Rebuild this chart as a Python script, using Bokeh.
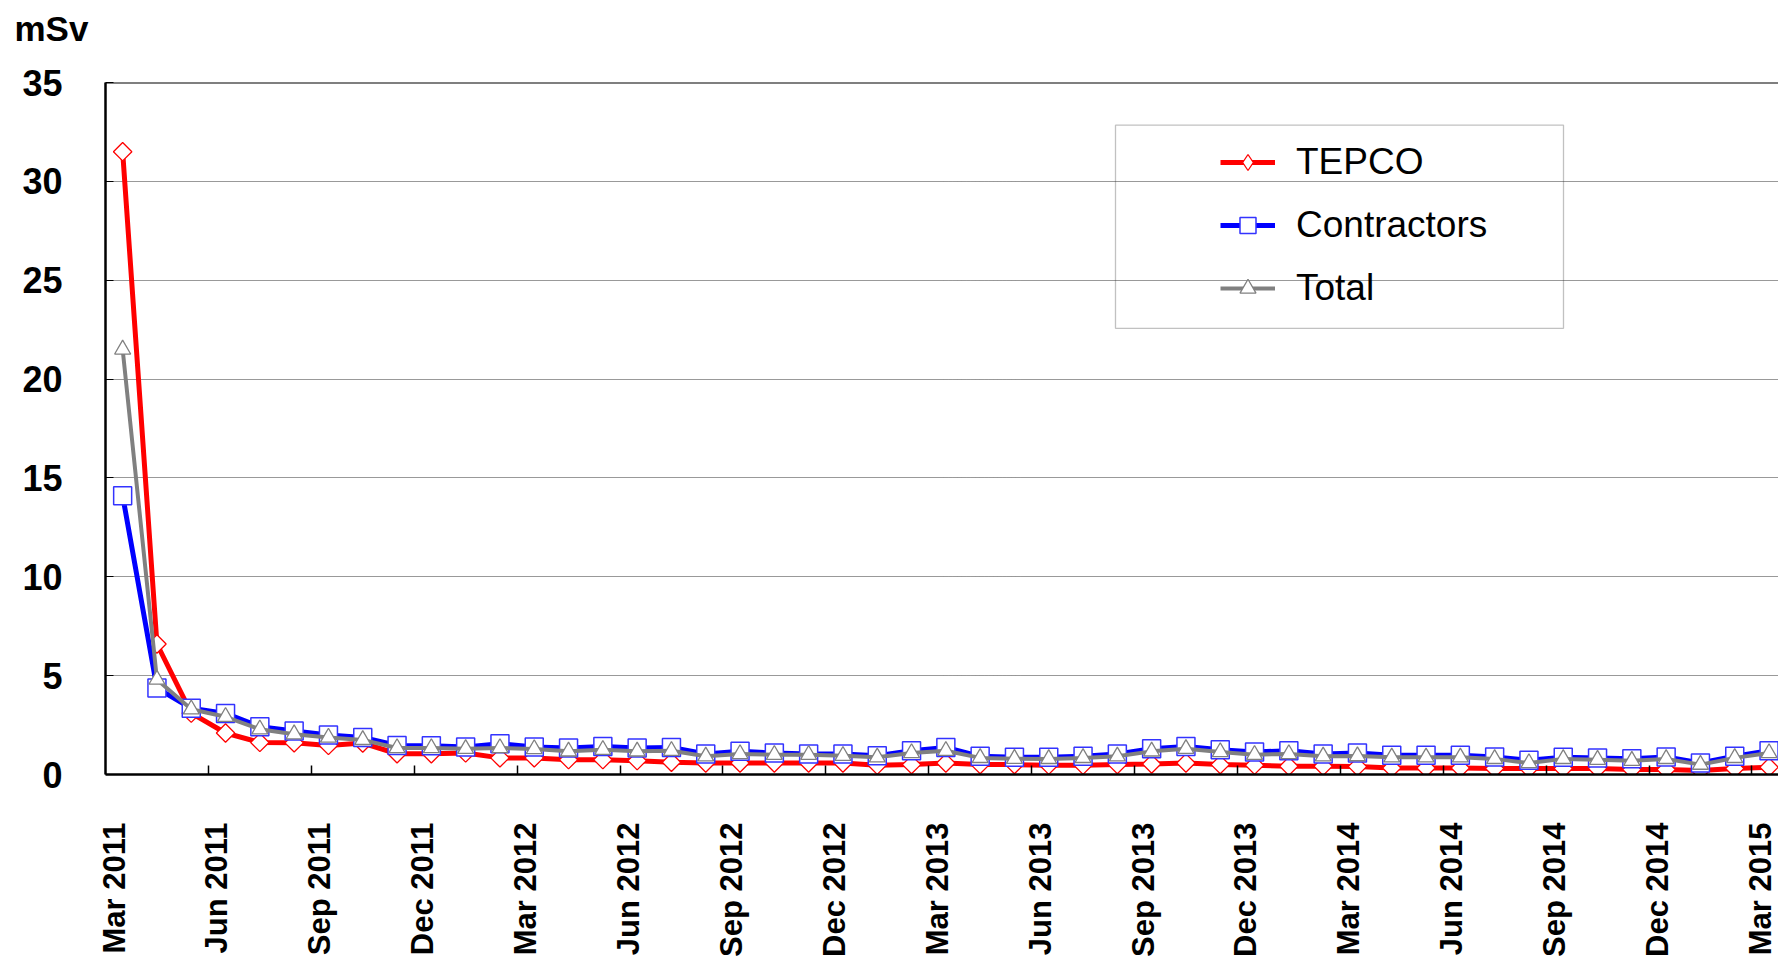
import numpy as np
from bokeh.plotting import figure
from bokeh.models import (FixedTicker, Legend, LegendItem, Span, Title,
                          BoxAnnotation, Range1d, ColumnDataSource)
from bokeh.embed import file_html
from bokeh.resources import INLINE

# ---------------- data ----------------
tick_labels = ["Mar 2011", "Jun 2011", "Sep 2011", "Dec 2011",
               "Mar 2012", "Jun 2012", "Sep 2012", "Dec 2012",
               "Mar 2013", "Jun 2013", "Sep 2013", "Dec 2013",
               "Mar 2014", "Jun 2014", "Sep 2014", "Dec 2014",
               "Mar 2015"]

tepco = [31.5, 6.6, 3.1, 2.1, 1.62, 1.6, 1.47, 1.59, 1.05, 1.05, 1.09, 0.84,
         0.84, 0.75, 0.75, 0.70, 0.62, 0.58, 0.58, 0.58, 0.58, 0.58, 0.47, 0.50,
         0.58, 0.50, 0.50, 0.47, 0.47, 0.50, 0.53, 0.58, 0.50, 0.47, 0.42, 0.42,
         0.40, 0.33, 0.33, 0.33, 0.30, 0.30, 0.30, 0.30, 0.25, 0.25, 0.20, 0.30,
         0.37]

contractors = [14.1, 4.37, 3.35, 3.09, 2.42, 2.2, 2.0, 1.87, 1.47, 1.45, 1.39, 1.55,
               1.39, 1.34, 1.42, 1.34, 1.37, 1.04, 1.17, 1.09, 1.04, 1.04, 0.95, 1.2,
               1.37, 0.92, 0.87, 0.87, 0.92, 1.04, 1.3, 1.42, 1.25, 1.14, 1.2, 1.04,
               1.09, 0.97, 0.97, 0.97, 0.89, 0.72, 0.87, 0.84, 0.8, 0.89, 0.58, 0.92,
               1.2]

total = [21.5, 4.8, 3.3, 2.92, 2.29, 2.04, 1.87, 1.75, 1.34, 1.34, 1.30, 1.34,
         1.29, 1.17, 1.25, 1.17, 1.2, 0.92, 1.04, 1.0, 1.0, 0.95, 0.87, 1.09,
         1.2, 0.84, 0.8, 0.79, 0.84, 0.92, 1.17, 1.3, 1.14, 1.0, 1.04, 0.92,
         0.93, 0.87, 0.87, 0.87, 0.79, 0.58, 0.79, 0.75, 0.7, 0.79, 0.5, 0.84,
         1.09]

month_index = list(range(len(tepco)))

# ---------------- layout constants ----------------
W, H = 1778, 959
LEFT, TOP, BOTTOM = 105, 82, 179
FRAME_W = W - LEFT
FRAME_H = H - TOP - BOTTOM
PX_PER_MONTH = 34.3
X_START = -0.5
X_END = X_START + FRAME_W / PX_PER_MONTH
Y_MAX = 35

FONT = "Liberation Sans"

src = ColumnDataSource(dict(x=month_index, tepco=tepco,
                            contractors=contractors, total=total))

p = figure(width=W, height=H, output_backend="svg", toolbar_location=None,
           x_range=Range1d(X_START, X_END), y_range=Range1d(0, Y_MAX),
           min_border_left=LEFT, min_border_right=0,
           min_border_top=TOP, min_border_bottom=BOTTOM)
p.outline_line_color = None
p.background_fill_color = "white"
p.border_fill_color = "white"
p.title.standoff = 0

# spacer next to the frame, then the unit label above it
p.add_layout(Title(text=" ", text_font_size="30px", standoff=0), "above")
p.add_layout(Title(text="mSv", align="left", offset=-91, standoff=0,
                   text_font=FONT, text_font_style="bold",
                   text_font_size="35px", text_color="black"), "above")

# grid
p.xgrid.visible = False
p.ygrid.ticker = FixedTicker(ticks=[5, 10, 15, 20, 25, 30])
p.ygrid.grid_line_color = "#333333"
p.ygrid.grid_line_dash = "1 1"
p.ygrid.grid_line_width = 1

# top border
p.add_layout(Span(location=Y_MAX, dimension="width", line_color="black",
                  line_width=2))

# y axis
yax = p.yaxis[0]
yax.ticker = FixedTicker(ticks=[0, 5, 10, 15, 20, 25, 30, 35])
yax.major_label_text_font = FONT
yax.major_label_text_font_style = "bold"
yax.major_label_text_font_size = "36px"
yax.major_label_text_color = "black"
yax.major_label_standoff = 43
yax.major_tick_in = 8
yax.major_tick_out = 0
yax.major_tick_line_color = "black"
yax.minor_tick_line_color = None
yax.axis_line_width = 2.5
yax.axis_line_color = "black"

# x axis: labels every 3 months, tick marks between categories
label_pos = [i - 0.25 for i in range(0, len(tepco), 3)]
tick_marks = [i + 2.5 for i in range(0, len(tepco) - 1, 3)]
xax = p.xaxis[0]
xax.ticker = FixedTicker(ticks=label_pos, minor_ticks=tick_marks)
xax.major_label_overrides = {pos: lab for pos, lab in zip(label_pos, tick_labels)}
xax.major_label_orientation = np.pi / 2
xax.major_label_text_font = FONT
xax.major_label_text_font_style = "bold"
xax.major_label_text_font_size = "31px"
xax.major_label_text_color = "black"
xax.major_label_standoff = 42
xax.major_tick_line_color = None
xax.minor_tick_in = 9
xax.minor_tick_out = 0
xax.minor_tick_line_color = "black"
xax.minor_tick_line_width = 1.5
xax.axis_line_width = 2.5
xax.axis_line_color = "black"

# series
r_tl = p.line("x", "tepco", source=src, line_color="#ff0000", line_width=5)
r_tm = p.scatter("x", "tepco", source=src, marker="square", angle=np.pi / 4,
                 size=13, fill_color="white", line_color="#ff0000", line_width=1.3)
r_cl = p.line("x", "contractors", source=src, line_color="#0000ff", line_width=5)
r_cm = p.scatter("x", "contractors", source=src, marker="square", size=18,
                 fill_color="white", line_color="#3333ff", line_width=1.5)
r_ol = p.line("x", "total", source=src, line_color="#808080", line_width=4)
r_om = p.scatter("x", "total", source=src, marker="triangle", size=16,
                 fill_color="white", line_color="#808080", line_width=1.3)

# legend-only diamond sample for TEPCO (a single NaN point: nothing is drawn in the plot)
r_tleg = p.scatter(x=[float("nan")], y=[float("nan")], marker="diamond", size=18,
                   fill_color="white", line_color="#ff0000", line_width=1.3)

# legend
legend = Legend(items=[
    LegendItem(label="TEPCO", renderers=[r_tl, r_tleg]),
    LegendItem(label="Contractors", renderers=[r_cl, r_cm]),
    LegendItem(label="Total", renderers=[r_ol, r_om]),
])
legend.location = (1115, 465)
legend.margin = 0
legend.padding = 0
legend.spacing = 21
legend.glyph_width = 55
legend.glyph_height = 40
legend.label_height = 40
legend.label_standoff = 21
legend.label_text_font = FONT
legend.label_text_font_size = "37px"
legend.label_text_color = "black"
legend.border_line_color = None
legend.background_fill_alpha = 0
p.add_layout(legend)

# legend frame
def xd(px):
    return X_START + (px - LEFT) / PX_PER_MONTH

def yd(py):
    return Y_MAX * (TOP + FRAME_H - py) / FRAME_H

p.add_layout(BoxAnnotation(left=xd(1115), right=xd(1563), top=yd(125), bottom=yd(330),
                           fill_alpha=0, line_color="#333333", line_width=1.3))

open("out.html", "w").write(file_html(p, INLINE))
